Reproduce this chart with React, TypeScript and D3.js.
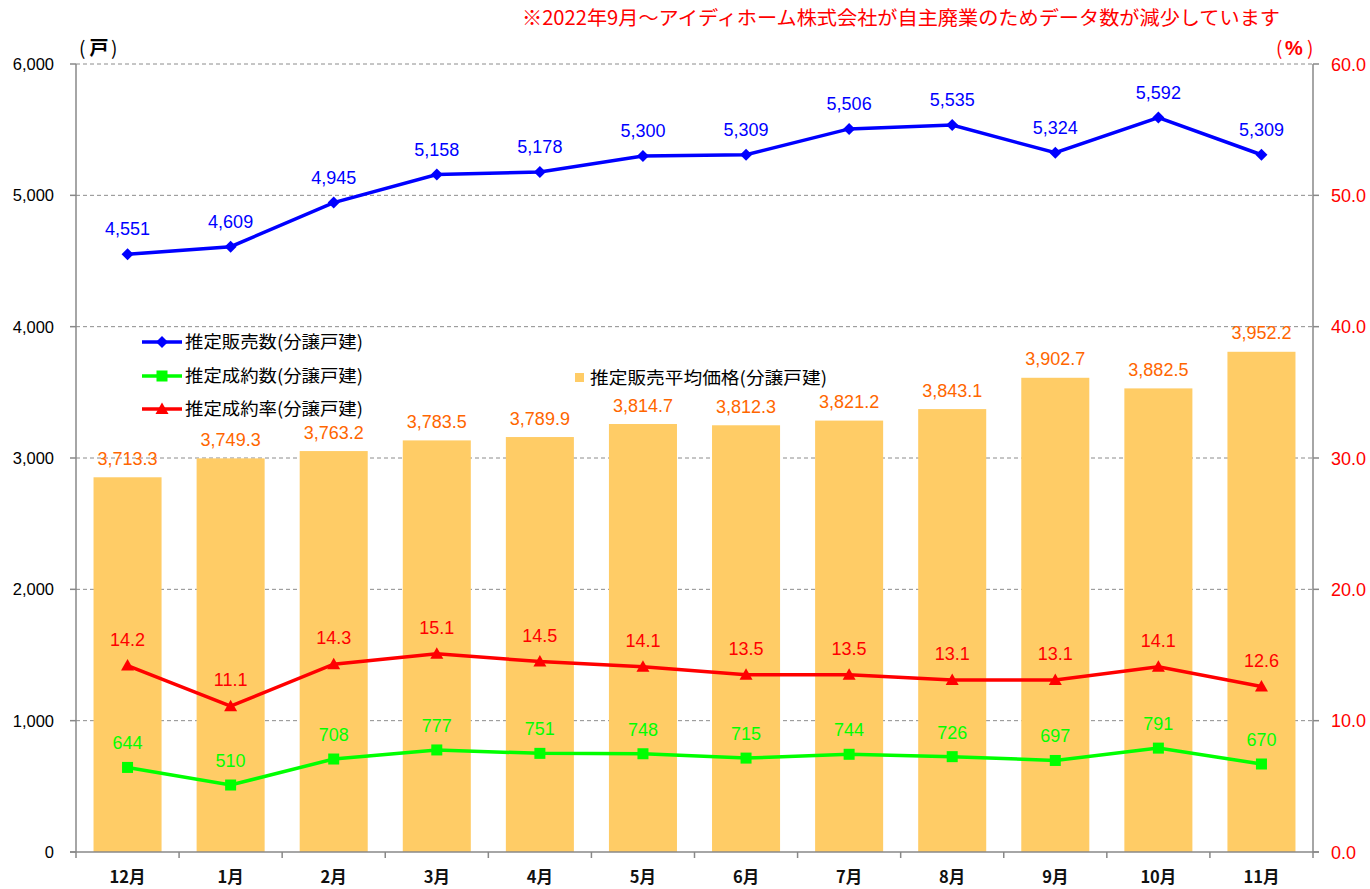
import React from "react";
import * as d3 from "d3";

const months = ["12月", "1月", "2月", "3月", "4月", "5月", "6月", "7月", "8月", "9月", "10月", "11月"];
const salesCount = [4551, 4609, 4945, 5158, 5178, 5300, 5309, 5506, 5535, 5324, 5592, 5309];
const contractCount = [644, 510, 708, 777, 751, 748, 715, 744, 726, 697, 791, 670];
const contractRate = [14.2, 11.1, 14.3, 15.1, 14.5, 14.1, 13.5, 13.5, 13.1, 13.1, 14.1, 12.6];
const avgPrice = [3713.3, 3749.3, 3763.2, 3783.5, 3789.9, 3814.7, 3812.3, 3821.2, 3843.1, 3902.7, 3882.5, 3952.2];
const leftTicks = [0, 1000, 2000, 3000, 4000, 5000, 6000];
const rightTicks = [0, 10, 20, 30, 40, 50, 60];

const legendLines = [
  { label: "推定販売数(分譲戸建)", color: "#0000FF", shape: "diamond" },
  { label: "推定成約数(分譲戸建)", color: "#00FF00", shape: "square" },
  { label: "推定成約率(分譲戸建)", color: "#FF0000", shape: "triangle" },
];
const barLegend = "推定販売平均価格(分譲戸建)";
const note = "※2022年9月～アイディホーム株式会社が自主廃業のためデータ数が減少しています";
const leftUnit = "戸";
const rightUnit = "%";

const L = 76, R = 1313, T = 64, B = 852;
const BLUE = "#0000FF", GREEN = "#00FF00", RED = "#FF0000", BAR = "#FFCC66", ORANGE = "#FF6600";
const NUM = "'Liberation Sans', Arial, sans-serif";
const JP = "'Noto Sans CJK JP', sans-serif";

function marker(shape: string, x: number, y: number, color: string, key?: any) {
  if (shape === "diamond") {
    const h = 6;
    return <path key={key} d={`M${x},${y - h}L${x + h},${y}L${x},${y + h}L${x - h},${y}Z`} fill={color} />;
  }
  if (shape === "square") {
    const h = 5.5;
    return <rect key={key} x={x - h} y={y - h} width={2 * h} height={2 * h} fill={color} />;
  }
  const h = 6.5;
  return <path key={key} d={`M${x},${y - h}L${x + h},${y + 5}L${x - h},${y + 5}Z`} fill={color} />;
}

export default function App() {
  const x = d3.scaleBand<string>().domain(months).range([L, R]).paddingInner(0.34).paddingOuter(0.17);
  const cx = (i: number) => (x(months[i]) as number) + x.bandwidth() / 2;
  const yL = d3.scaleLinear().domain([0, 6000]).range([B, T]);
  const yR = d3.scaleLinear().domain([0, 60]).range([B, T]);
  const yBar = d3.scaleLinear().domain([3000, 4500]).range([B, T]);
  const fmtInt = d3.format(",");
  const fmt1 = d3.format(",.1f");

  const lineL = d3.line<number>().x((_, i) => cx(i)).y((d) => yL(d));
  const lineR = d3.line<number>().x((_, i) => cx(i)).y((d) => yR(d));
  const step = x.step();
  const boundaries = d3.range(months.length + 1).map((i) => L + i * step);

  return (
    <svg width={1370} height={889} style={{ position: "absolute", left: 0, top: 0, background: "#fff" }}>
      {/* note */}
      <text x={522} y={25} fill={RED} fontSize={19.5} fontFamily={JP} textLength={758} lengthAdjust="spacingAndGlyphs">{note}</text>
      {/* units */}
      <g fontSize={19} fontFamily={JP} fill="#000">
        <text x={79} y={55}>(</text>
        <text x={89.5} y={55} fontWeight="bold">{leftUnit}</text>
        <text x={111} y={55}>)</text>
      </g>
      <g fontSize={19} fontFamily={JP} fill={RED}>
        <text x={1276} y={55}>(</text>
        <text x={1285} y={55} fontWeight="bold" fontFamily={NUM} fontSize={20}>{rightUnit}</text>
        <text x={1307} y={55}>)</text>
      </g>

      {/* gridlines */}
      {leftTicks.filter((t) => t > 0).map((t) => (
        <line key={t} x1={L} x2={R} y1={yL(t)} y2={yL(t)} stroke="#8c8c8c" strokeWidth={1} strokeDasharray="4,3" />
      ))}

      {/* bars */}
      {avgPrice.map((v, i) => (
        <rect key={i} x={x(months[i])} y={yBar(v)} width={x.bandwidth()} height={B - yBar(v)} fill={BAR} />
      ))}

      {/* axes */}
      <line x1={L} x2={L} y1={T} y2={B} stroke="#888" strokeWidth={1.5} />
      <line x1={R} x2={R} y1={T} y2={B} stroke="#888" strokeWidth={1.5} />
      <line x1={L - 6} x2={R + 6} y1={B} y2={B} stroke="#888" strokeWidth={1.5} />
      {leftTicks.map((t) => (
        <g key={t}>
          <line x1={L - 6} x2={L} y1={yL(t)} y2={yL(t)} stroke="#888" strokeWidth={1.5} />
          <text x={54} y={yL(t) + 6} textAnchor="end" fontSize={16.5} fontFamily={NUM} fill="#000">{fmtInt(t)}</text>
        </g>
      ))}
      {rightTicks.map((t) => (
        <g key={t}>
          <line x1={R} x2={R + 6} y1={yR(t)} y2={yR(t)} stroke="#888" strokeWidth={1.5} />
          <text x={1331} y={yR(t) + 6.5} textAnchor="start" fontSize={18} fontFamily={NUM} fill={RED}>{t.toFixed(1)}</text>
        </g>
      ))}
      {boundaries.map((b, i) => (
        <line key={i} x1={b} x2={b} y1={B} y2={B + 6} stroke="#888" strokeWidth={1.5} />
      ))}
      {months.map((m, i) => (
        <text key={m} x={cx(i)} y={883} textAnchor="middle" fontSize={16.5} fontWeight="bold" fontFamily={JP} fill="#111">{m}</text>
      ))}

      {/* lines */}
      <path d={lineL(contractCount) as string} fill="none" stroke={GREEN} strokeWidth={3.5} />
      <path d={lineR(contractRate) as string} fill="none" stroke={RED} strokeWidth={3.5} />
      <path d={lineL(salesCount) as string} fill="none" stroke={BLUE} strokeWidth={3.5} />
      {contractCount.map((v, i) => marker("square", cx(i), yL(v), GREEN, "s" + i))}
      {contractRate.map((v, i) => marker("triangle", cx(i), yR(v), RED, "t" + i))}
      {salesCount.map((v, i) => marker("diamond", cx(i), yL(v), BLUE, "d" + i))}

      {/* labels */}
      {avgPrice.map((v, i) => (
        <text key={"p" + i} x={cx(i)} y={yBar(v) - 12.5} textAnchor="middle" fontSize={18} fontFamily={NUM} fill={ORANGE}>{fmt1(v)}</text>
      ))}
      {salesCount.map((v, i) => (
        <text key={"sl" + i} x={cx(i)} y={yL(v) - 19} textAnchor="middle" fontSize={18} fontFamily={NUM} fill={BLUE}>{fmtInt(v)}</text>
      ))}
      {contractCount.map((v, i) => (
        <text key={"cl" + i} x={cx(i)} y={yL(v) - 18} textAnchor="middle" fontSize={18} fontFamily={NUM} fill={GREEN}>{fmtInt(v)}</text>
      ))}
      {contractRate.map((v, i) => (
        <text key={"rl" + i} x={cx(i)} y={yR(v) - 20} textAnchor="middle" fontSize={18} fontFamily={NUM} fill={RED}>{v.toFixed(1)}</text>
      ))}

      {/* legend */}
      {legendLines.map((l, i) => {
        const ly = [342, 376, 409][i];
        return (
          <g key={l.label}>
            <line x1={142} x2={182} y1={ly} y2={ly} stroke={l.color} strokeWidth={3.5} />
            {marker(l.shape, 162, ly, l.color)}
            <text x={185} y={ly + 6} fontSize={17.5} fontFamily={JP} fill="#000" textLength={178} lengthAdjust="spacingAndGlyphs">{l.label}</text>
          </g>
        );
      })}
      <rect x={575} y={373} width={9} height={9} fill={BAR} />
      <text x={590} y={384} fontSize={17.5} fontFamily={JP} fill="#000" textLength={237} lengthAdjust="spacingAndGlyphs">{barLegend}</text>
    </svg>
  );
}
